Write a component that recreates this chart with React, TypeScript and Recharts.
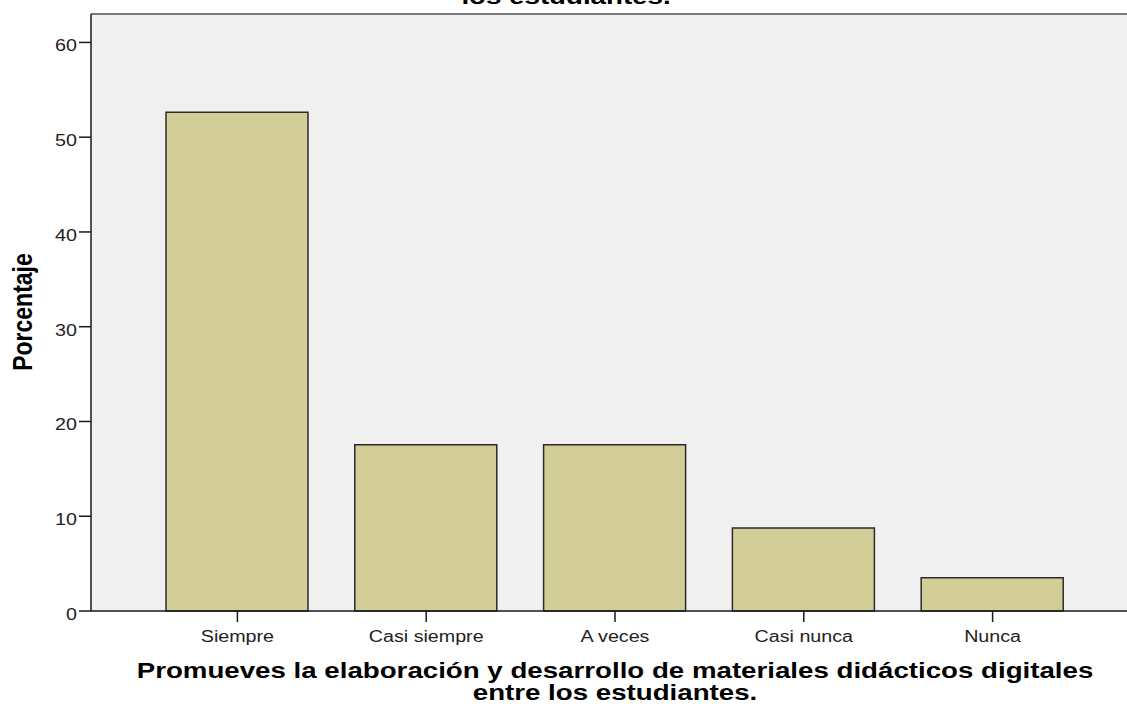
import React from "react";
import { BarChart, Bar, XAxis, YAxis, CartesianGrid, ReferenceLine } from "recharts";

const categories = ["Siempre", "Casi siempre", "A veces", "Casi nunca", "Nunca"];
const percentages = [52.63, 17.54, 17.54, 8.77, 3.51];
const yTicks = [0, 10, 20, 30, 40, 50, 60];

const titleTail = "los estudiantes.";
const xTitleLines = [
  "Promueves la elaboración y desarrollo de materiales didácticos digitales",
  "entre los estudiantes.",
];
const yTitle = "Porcentaje";

const data = categories.map((name, i) => ({ name, value: percentages[i] }));

// the source picture is stretched sideways, so every text gets the same widening
const SX = 1.23;
const FONT = "'Liberation Sans', Arial, sans-serif";

const XTick = (props: any) => {
  const { x, y, payload } = props;
  return (
    <text
      transform={`translate(${x},${y + 18}) scale(${SX},1)`}
      textAnchor="middle"
      fontFamily={FONT}
      fontSize={16}
      fill="#222"
    >
      {payload.value}
    </text>
  );
};

const YTick = (props: any) => {
  const { x, y, payload } = props;
  return (
    <text
      transform={`translate(${x},${y + 9}) scale(${SX},1)`}
      textAnchor="end"
      fontFamily={FONT}
      fontSize={16}
      fill="#222"
    >
      {payload.value}
    </text>
  );
};

const renderTitles = () => (
  <g fontFamily={FONT} fontWeight="bold" fontSize={22.5} fill="#000">
    <text transform={`translate(566,4) scale(${SX},1)`} textAnchor="middle">
      {titleTail}
    </text>
    {xTitleLines.map((line, i) => (
      <text key={i} transform={`translate(615,${678 + i * 22}) scale(${SX},1)`} textAnchor="middle">
        {line}
      </text>
    ))}
  </g>
);

const renderYTitle = () => (
  <text
    transform={`translate(32,312) scale(${SX},1) rotate(-90)`}
    textAnchor="middle"
    fontFamily={FONT}
    fontWeight="bold"
    fontSize={23}
    fill="#000"
  >
    {yTitle}
  </text>
);

export default function App() {
  return (
    <div style={{ position: "absolute", left: 0, top: 0, width: 1127, height: 704, background: "#fff" }}>
      <BarChart width={1127} height={704} data={data} margin={{ top: 14, right: 0, bottom: 0, left: 0 }}>
        <CartesianGrid horizontal={false} vertical={false} fill="#f0f0f0" />
        <XAxis
          dataKey="name"
          height={93}
          padding={{ left: 52, right: 40 }}
          tickSize={11}
          tick={<XTick />}
          axisLine={{ stroke: "#1a1a1a", strokeWidth: 1.5 }}
          tickLine={{ stroke: "#1a1a1a", strokeWidth: 1.5 }}
          label={{ content: renderTitles }}
        />
        <YAxis
          width={91}
          domain={[0, 63]}
          ticks={yTicks}
          tickSize={12}
          tick={<YTick />}
          axisLine={{ stroke: "#1a1a1a", strokeWidth: 1.5 }}
          tickLine={{ stroke: "#1a1a1a", strokeWidth: 1.5 }}
          label={{ content: renderYTitle }}
        />
        <ReferenceLine y={63} stroke="#7a7a7a" strokeWidth={2} />
        <Bar
          dataKey="value"
          barSize={142}
          fill="#d3ce97"
          stroke="#2b2b2b"
          strokeWidth={1.5}
          isAnimationActive={false}
        />
      </BarChart>
    </div>
  );
}
